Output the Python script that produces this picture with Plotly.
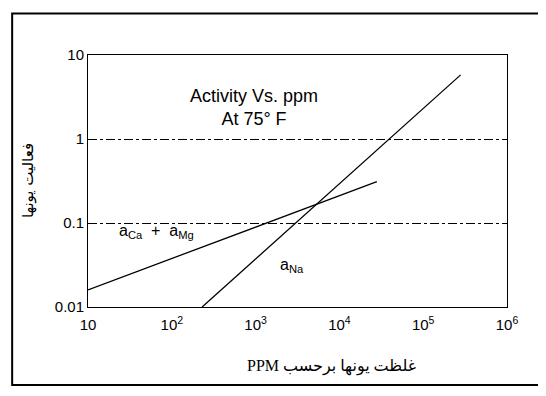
import plotly.graph_objects as go

# values
ppm_ticks = [10, 100, 1000, 10000, 100000, 1000000]
ppm_labels = ["10", "10<sup>2</sup>", "10<sup>3</sup>", "10<sup>4</sup>", "10<sup>5</sup>", "10<sup>6</sup>"]
act_ticks = [0.01, 0.1, 1, 10]
act_labels = ["0.01", "0.1", "1", "10"]

ca_mg_ppm = [10, 28000]
ca_mg_act = [0.016, 0.31]

na_ppm = [230, 280000]
na_act = [0.01, 5.8]

fig = go.Figure()

fig.add_trace(go.Scatter(x=ca_mg_ppm, y=ca_mg_act, mode="lines",
                         line=dict(color="black", width=1.3)))
fig.add_trace(go.Scatter(x=na_ppm, y=na_act, mode="lines",
                         line=dict(color="black", width=1.3)))

# curve labels and the note inside the plot (log axes: positions in log10 units)
fig.add_annotation(x=1.35, y=-1.1, xref="x", yref="y", text="a<sub>Ca</sub>  +  a<sub>Mg</sub>",
                   showarrow=False, xanchor="left", font=dict(size=16, color="black"))
fig.add_annotation(x=3.27, y=-1.5, xref="x", yref="y", text="a<sub>Na</sub>",
                   showarrow=False, xanchor="left", font=dict(size=16, color="black"))
fig.add_annotation(x=2.98, y=0.38, xref="x", yref="y", text="Activity Vs. ppm<br>At 75° F",
                   showarrow=False, font=dict(size=18, color="black"))

# Persian axis titles
fig.add_annotation(x=0.58, y=-0.238, xref="paper", yref="paper", yanchor="middle",
                   text="\u202bغلظت یونها برحسب PPM\u202c",
                   showarrow=False, font=dict(size=16, color="black",
                                              family="Liberation Serif, DejaVu Sans"))
fig.add_annotation(x=-0.143, y=0.5, xref="paper", yref="paper", xanchor="center",
                   yanchor="middle", text="فعالیت یونها",
                   showarrow=False, textangle=-90,
                   font=dict(size=15, color="black", family="DejaVu Sans"))

# outer frame of the scanned page
fig.add_shape(type="rect", xref="paper", yref="paper", x0=-0.181, x1=1.2, y0=-0.31, y1=1.165,
              line=dict(color="black", width=2))

fig.update_xaxes(type="log", range=[1, 6], tickvals=ppm_ticks, ticktext=ppm_labels,
                 showgrid=False, showline=True, mirror=True, linecolor="black", linewidth=1,
                 ticks="", zeroline=False, ticklabelstandoff=4)
fig.update_yaxes(type="log", range=[-2, 1], tickvals=act_ticks, ticktext=act_labels,
                 showgrid=True, gridcolor="black", gridwidth=1, griddash="dashdot",
                 showline=True, mirror=True, linecolor="black", linewidth=1,
                 ticks="", zeroline=False)

# page has an 8px body margin, so the figure is a bit smaller than the window
fig.update_layout(
    width=538, height=388,
    margin=dict(l=80, r=39, t=47, b=89),
    paper_bgcolor="white", plot_bgcolor="white",
    showlegend=False,
    font=dict(family="Liberation Sans, Arial", size=15, color="black"),
)

fig.write_html("out.html")
